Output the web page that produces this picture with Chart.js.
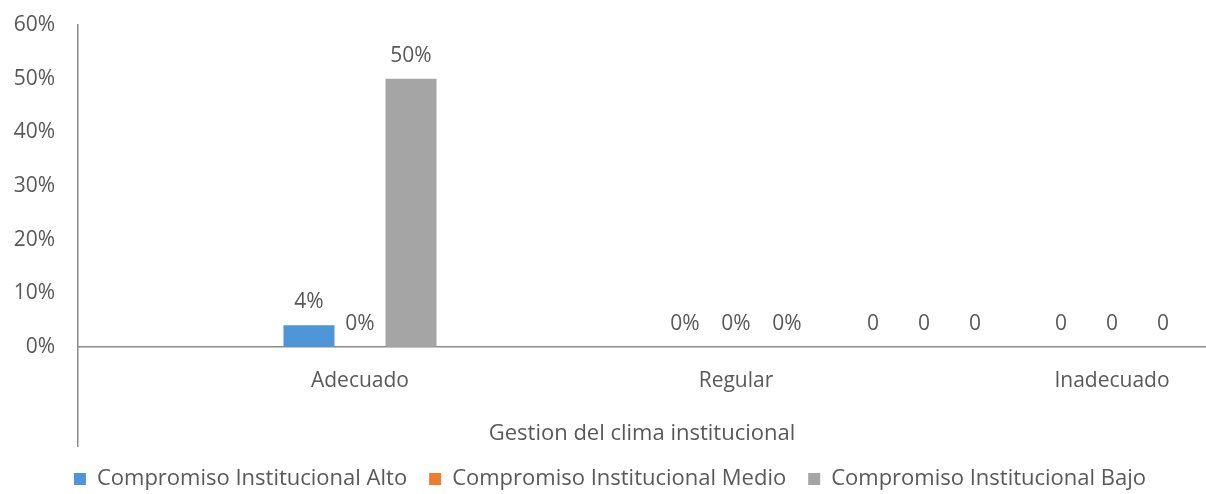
<!DOCTYPE html>
<html>
<head>
<meta charset="utf-8">
<script src="https://cdn.jsdelivr.net/npm/chart.js@4.4.0/dist/chart.umd.min.js"></script>
<style>
  html, body { margin: 0; padding: 0; background: #fff; }
  #wrap { width: 1206px; height: 494px; }
</style>
</head>
<body>
<div id="wrap"><canvas id="grafico"></canvas></div>
<script>
// categorias del eje (las vacias solo dejan espacio)
const categorias = ['', 'Adecuado', '', 'Regular', '', 'Inadecuado'];
// porcentajes por nivel de compromiso
const alto  = [null, 4, null, 0, 0, 0];
const medio = [null, 0, null, 0, 0, 0];
const bajo  = [null, 50, null, 0, 0, 0];
// sufijo de la etiqueta de cada grupo
const sufijo = ['', '%', '', '%', '', ''];
const ejeMin = -18.5;
const ejeMax = 60;

const gris = '#595959';
const fuente = "'Open Sans', sans-serif";

// etiquetas de valor encima de cada barra
const etiquetas = {
  id: 'etiquetas',
  afterDatasetsDraw(chart) {
    const ctx = chart.ctx;
    ctx.save();
    ctx.font = '21px ' + fuente;
    ctx.fillStyle = gris;
    ctx.textAlign = 'center';
    ctx.textBaseline = 'middle';
    chart.data.datasets.forEach((ds, i) => {
      const meta = chart.getDatasetMeta(i);
      meta.data.forEach((bar, j) => {
        const v = ds.data[j];
        if (v === null) return;
        ctx.fillText(v + sufijo[j], bar.x, bar.y - 23);
      });
    });
    ctx.restore();
  }
};

const ctx = document.getElementById('grafico').getContext('2d');
const grafico = new Chart(ctx, {
  type: 'bar',
  data: {
    labels: categorias,
    datasets: [{
      label: 'Compromiso Institucional Alto',
      backgroundColor: '#4E95D9',
      data: alto
    }, {
      label: 'Compromiso Institucional Medio',
      backgroundColor: '#ED7D31',
      data: medio
    }, {
      label: 'Compromiso Institucional Bajo',
      backgroundColor: '#A5A5A5',
      data: bajo
    }]
  },
  options: {
    responsive: true,
    maintainAspectRatio: false,
    animation: false,
    layout: { padding: { top: 25, left: 14, right: 0, bottom: -6 } },
    datasets: { bar: { categoryPercentage: 0.814, barPercentage: 1 } },
    scales: {
      x: {
        position: { y: 0 },
        grid: { display: false, drawTicks: false },
        border: { display: true, color: '#8C8C8C', width: 1.5 },
        ticks: {
          autoSkip: false, maxRotation: 0, padding: 22,
          color: gris, font: { family: fuente, size: 21 }
        },
        title: {
          display: true, text: 'Gestion del clima institucional',
          color: gris, font: { family: fuente, size: 22 },
          padding: { top: 5, bottom: 0 }
        }
      },
      y: {
        min: ejeMin, max: ejeMax,
        grid: { display: false, drawTicks: false },
        border: { display: true, color: '#8C8C8C', width: 1.5 },
        ticks: {
          stepSize: 10, padding: 23,
          color: gris, font: { family: fuente, size: 21 },
          callback: (v) => v < 0 ? '' : v + '%'
        },
        afterFit: (s) => {
          s.width = 64;
          s.paddingTop = 0;
          s.paddingBottom = 0;
        }
      }
    },
    plugins: {
      legend: {
        position: 'bottom',
        labels: {
          boxWidth: 12, boxHeight: 12, padding: 22,
          color: gris, font: { family: fuente, size: 22 }
        }
      },
      tooltip: { enabled: false }
    }
  },
  plugins: [etiquetas]
});
</script>
</body>
</html>
